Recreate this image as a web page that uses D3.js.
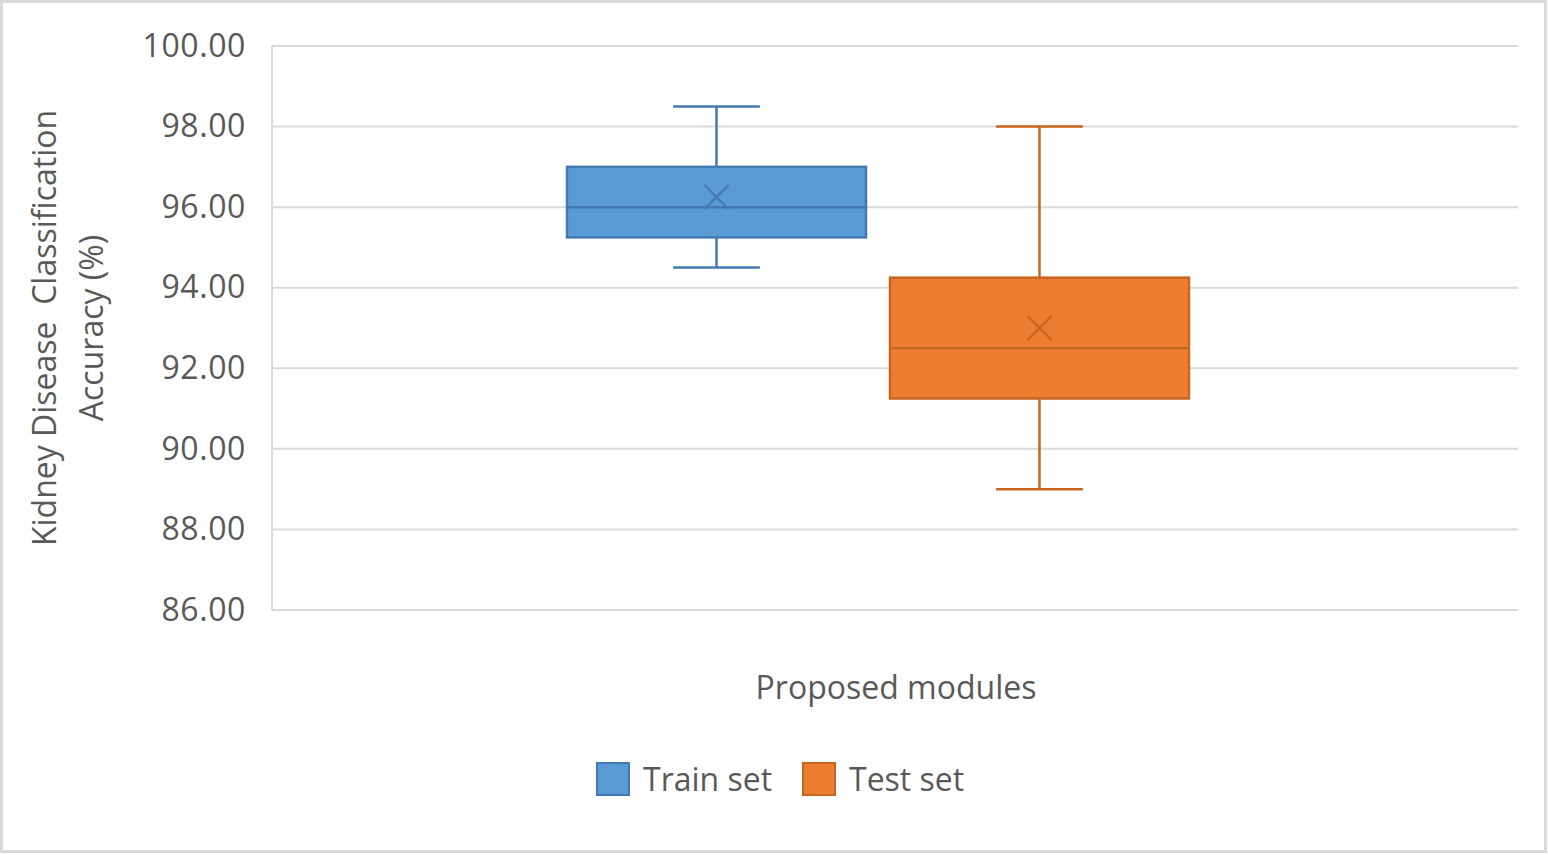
<!DOCTYPE html>
<html>
<head>
<meta charset="utf-8">
<script src="https://cdn.jsdelivr.net/npm/d3@7"></script>
<style>
  html, body { margin: 0; padding: 0; background: #fff; }
  svg text { font-family: "Open Sans", "Noto Sans", sans-serif; fill: #595959; }
</style>
</head>
<body>
<script>
// values
const seriesNames = ['Train set', 'Test set'];
const whiskerLow  = [94.5, 89.0];
const quartile1   = [95.25, 91.25];
const medians     = [96.0, 92.5];
const quartile3   = [97.0, 94.25];
const whiskerHigh = [98.5, 98.0];
const means       = [96.25, 93.0];
const yTicks = [86, 88, 90, 92, 94, 96, 98, 100];
const fills   = ['#5B9BD5', '#ED7D31'];
const strokes = ['#4478B0', '#C8651F'];

const width = 1548, height = 855;
const plot = { left: 272, right: 1518, top: 46, bottom: 610 };

const svg = d3.select('body').append('svg')
    .attr('width', width)
    .attr('height', height);

// outer chart frame
svg.append('rect')
    .attr('x', 1.5).attr('y', 1.5)
    .attr('width', width - 4).attr('height', height - 5)
    .attr('fill', '#fff')
    .attr('stroke', '#d9d9d9')
    .attr('stroke-width', 3);

const y = d3.scaleLinear().domain([86, 100]).range([plot.bottom, plot.top]);
const x = d3.scaleBand().domain(seriesNames).range([567, 1189]).paddingInner(0.0743);

// gridlines
svg.append('g')
    .selectAll('line')
    .data(yTicks)
    .join('line')
    .attr('x1', plot.left).attr('x2', plot.right)
    .attr('y1', d => y(d)).attr('y2', d => y(d))
    .attr('stroke', '#d9d9d9')
    .attr('stroke-width', 2);

// left axis line
svg.append('line')
    .attr('x1', plot.left).attr('x2', plot.left)
    .attr('y1', plot.top).attr('y2', plot.bottom)
    .attr('stroke', '#d9d9d9')
    .attr('stroke-width', 2);

// y tick labels
const yAxis = svg.append('g')
    .attr('transform', `translate(${plot.left},0)`)
    .call(d3.axisLeft(y).tickValues(yTicks).tickFormat(d3.format('.2f')).tickSize(0).tickPadding(26));
yAxis.select('.domain').remove();
yAxis.selectAll('text')
    .attr('font-size', 32)
    .attr('letter-spacing', 0.6)
    .attr('fill', '#595959')
    .style('font-family', '"Open Sans", sans-serif');

// boxes
const boxes = svg.append('g')
    .selectAll('g')
    .data(seriesNames.map((name, i) => ({ name, i })))
    .join('g');

boxes.each(function (d) {
    const g = d3.select(this);
    const i = d.i;
    const x0 = x(d.name), bw = x.bandwidth(), cx = x0 + bw / 2;
    const cap = bw * 0.145;
    const col = strokes[i];

    // whisker stems
    g.append('line')
        .attr('x1', cx).attr('x2', cx)
        .attr('y1', y(whiskerHigh[i])).attr('y2', y(quartile3[i]))
        .attr('stroke', col).attr('stroke-width', 2.5);
    g.append('line')
        .attr('x1', cx).attr('x2', cx)
        .attr('y1', y(quartile1[i])).attr('y2', y(whiskerLow[i]))
        .attr('stroke', col).attr('stroke-width', 2.5);
    // caps
    [whiskerHigh[i], whiskerLow[i]].forEach(v => {
        g.append('line')
            .attr('x1', cx - cap).attr('x2', cx + cap)
            .attr('y1', y(v)).attr('y2', y(v))
            .attr('stroke', col).attr('stroke-width', 2.5);
    });
    // box
    g.append('rect')
        .attr('x', x0).attr('width', bw)
        .attr('y', y(quartile3[i]))
        .attr('height', y(quartile1[i]) - y(quartile3[i]))
        .attr('fill', fills[i])
        .attr('stroke', col).attr('stroke-width', 2.5);
    // median
    g.append('line')
        .attr('x1', x0).attr('x2', x0 + bw)
        .attr('y1', y(medians[i])).attr('y2', y(medians[i]))
        .attr('stroke', col).attr('stroke-width', 2.5);
    // mean marker
    const m = y(means[i]), s = 12;
    g.append('path')
        .attr('d', `M${cx - s},${m - s}L${cx + s},${m + s}M${cx - s},${m + s}L${cx + s},${m - s}`)
        .attr('stroke', col).attr('stroke-width', 2.2).attr('fill', 'none');
});

// axis titles
svg.append('text')
    .attr('x', 896).attr('y', 699)
    .attr('text-anchor', 'middle')
    .attr('font-size', 32)
    .text('Proposed modules');

const yTitle = svg.append('text')
    .attr('transform', 'translate(66,328) rotate(-90)')
    .attr('text-anchor', 'middle')
    .attr('font-size', 32);
yTitle.append('tspan').attr('x', 0).attr('dy', '-0.3em').text('Kidney Disease  Classification').style('white-space', 'pre');
yTitle.append('tspan').attr('x', 0).attr('dy', '1.45em').text('Accuracy (%)');

// legend
const legend = svg.append('g');
const legendX = [597, 803];
seriesNames.forEach((name, i) => {
    legend.append('rect')
        .attr('x', legendX[i]).attr('y', 763)
        .attr('width', 32).attr('height', 32)
        .attr('fill', fills[i])
        .attr('stroke', strokes[i]).attr('stroke-width', 2);
    legend.append('text')
        .attr('x', legendX[i] + 46).attr('y', 791)
        .attr('font-size', 32)
        .text(name);
});
</script>
</body>
</html>
